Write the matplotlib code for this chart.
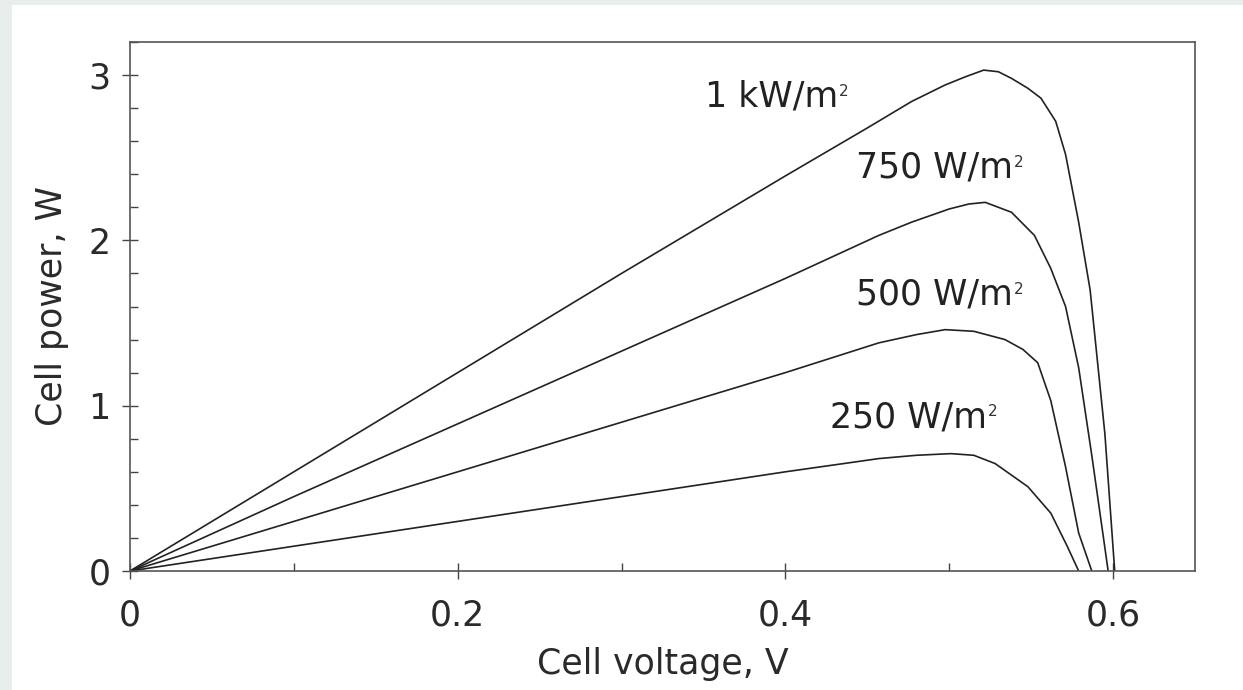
import matplotlib
matplotlib.use('Agg')
import matplotlib.pyplot as plt
from matplotlib.patches import Rectangle
from matplotlib.ticker import MultipleLocator

plt.rcParams['font.family'] = ['DejaVu Sans']

# Power curves of one cell for four irradiance levels
v_1000 = [0, 0.1, 0.2, 0.3, 0.4, 0.45, 0.477, 0.4975, 0.51, 0.521, 0.53, 0.538, 0.548,
          0.556, 0.565, 0.571, 0.579, 0.586, 0.595, 0.601]
p_1000 = [0, 0.60, 1.20, 1.80, 2.39, 2.68, 2.84, 2.94, 2.99, 3.03, 3.02, 2.98, 2.92,
          2.86, 2.72, 2.52, 2.11, 1.70, 0.83, 0]

v_750 = [0, 0.1, 0.2, 0.3, 0.4, 0.457, 0.477, 0.50, 0.512, 0.522, 0.538, 0.552, 0.562,
         0.571, 0.579, 0.587, 0.597]
p_750 = [0, 0.45, 0.89, 1.33, 1.77, 2.03, 2.11, 2.19, 2.22, 2.23, 2.17, 2.03, 1.83,
         1.60, 1.23, 0.70, 0]

v_500 = [0, 0.1, 0.2, 0.3, 0.4, 0.457, 0.48, 0.4975, 0.515, 0.534, 0.545, 0.554, 0.562,
         0.571, 0.579, 0.587]
p_500 = [0, 0.30, 0.60, 0.90, 1.20, 1.38, 1.43, 1.46, 1.45, 1.40, 1.34, 1.26, 1.03,
         0.63, 0.23, 0]

v_250 = [0, 0.1, 0.2, 0.3, 0.4, 0.457, 0.48, 0.501, 0.515, 0.528, 0.548, 0.562, 0.572, 0.579]
p_250 = [0, 0.15, 0.30, 0.45, 0.60, 0.68, 0.70, 0.71, 0.70, 0.65, 0.51, 0.35, 0.15, 0]

curves = [(v_1000, p_1000), (v_750, p_750), (v_500, p_500), (v_250, p_250)]
etiquetas = ['1 kW/m', '750 W/m', '500 W/m', '250 W/m']
pos_etiquetas = [(0.351, 2.81), (0.443, 2.38), (0.443, 1.61), (0.4275, 0.87)]

fig = plt.figure(figsize=(12.43, 6.90), dpi=100, facecolor='#e8eeeb')
fig.patches.append(Rectangle((12 / 1243, 0), 1, 685 / 690, transform=fig.transFigure,
                             facecolor='white', edgecolor='none', zorder=-10))

ax = fig.add_axes([130 / 1243, 1 - 571 / 690, 1065 / 1243, 529 / 690])
ax.set_facecolor('white')

for v, p in curves:
    ax.plot(v, p, color='#222222', lw=1.2, solid_joinstyle='round')

# etiqueta de cada curva con el exponente pequeño al lado
for texto, (x, y) in zip(etiquetas, pos_etiquetas):
    t = ax.text(x, y, texto, fontsize=25, color='#222222', ha='left', va='baseline')
    ax.annotate('2', xy=(1, 1), xycoords=t, xytext=(0.5, -3), textcoords='offset points',
                fontsize=11, color='#333333', ha='left', va='top')

ax.set_xlim(0, 0.65)
ax.set_ylim(0, 3.2)
ax.xaxis.set_major_locator(MultipleLocator(0.2))
ax.xaxis.set_minor_locator(MultipleLocator(0.1))
ax.yaxis.set_major_locator(MultipleLocator(1))
ax.yaxis.set_minor_locator(MultipleLocator(0.2))
ax.set_xticklabels([], minor=True)
ax.xaxis.set_major_formatter(plt.FuncFormatter(lambda x, _: '0' if x == 0 else f'{x:.1f}'))
ax.yaxis.set_major_formatter(plt.FuncFormatter(lambda y, _: f'{y:.0f}'))

ax.tick_params(which='major', direction='inout', length=12, width=1.0, color='#444444',
               labelsize=25, labelcolor='#2a2a2a', pad=8)
ax.tick_params(axis='x', which='major', pad=14)
ax.tick_params(which='minor', direction='in', length=6, width=1.0, color='#444444')
ax.tick_params(top=False, right=False, which='both')

for lado in ax.spines.values():
    lado.set_color('#555555')
    lado.set_linewidth(1.2)

ax.set_xlabel('Cell voltage, V', fontsize=25, color='#2a2a2a', labelpad=10)
ax.set_ylabel('Cell power, W', fontsize=25, color='#2a2a2a', labelpad=14)

fig.savefig('out.png', dpi=100, facecolor=fig.get_facecolor())
